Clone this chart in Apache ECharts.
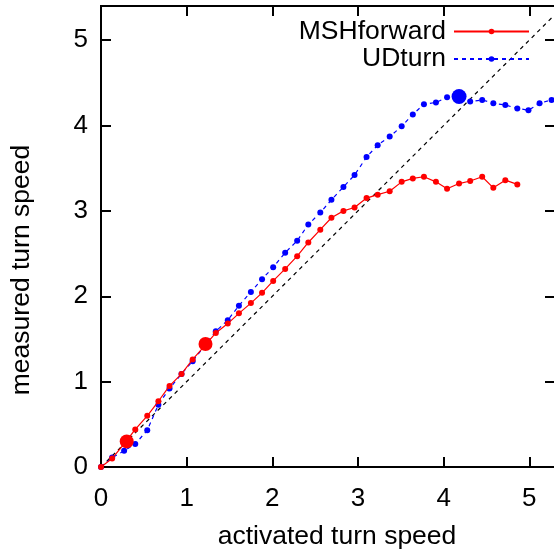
<!DOCTYPE html>
<html><head><meta charset="utf-8">
<script src="https://cdn.jsdelivr.net/npm/echarts@6/dist/echarts.min.js"></script>
<style>html,body{margin:0;padding:0;background:#fff}#c{width:554px;height:549px}</style>
</head><body><div id="c"></div>
<script>
// ---- data ----
const mshX = [0,0.13,0.27,0.40,0.54,0.67,0.80,0.94,1.07,1.21,1.34,1.48,1.61,1.75,1.88,2.01,2.15,2.29,2.42,2.56,2.69,2.83,2.96,3.10,3.23,3.37,3.51,3.64,3.77,3.91,4.04,4.18,4.31,4.45,4.58,4.72,4.86];
const mshY = [0,0.10,0.27,0.44,0.60,0.77,0.95,1.09,1.26,1.42,1.57,1.68,1.80,1.92,2.04,2.18,2.32,2.47,2.63,2.78,2.92,3.00,3.04,3.15,3.19,3.23,3.34,3.38,3.40,3.34,3.26,3.32,3.35,3.40,3.27,3.36,3.31];
const udX = [0,0.13,0.27,0.40,0.54,0.67,0.80,0.94,1.07,1.21,1.34,1.48,1.61,1.75,1.88,2.01,2.15,2.29,2.42,2.56,2.69,2.83,2.96,3.10,3.23,3.37,3.51,3.64,3.77,3.91,4.04,4.18,4.31,4.45,4.58,4.72,4.86,4.99,5.12,5.26,5.39];
const udY = [0,0.11,0.19,0.27,0.43,0.73,0.92,1.09,1.24,1.42,1.59,1.72,1.89,2.05,2.20,2.34,2.51,2.65,2.84,2.98,3.13,3.28,3.42,3.63,3.77,3.87,3.99,4.13,4.25,4.27,4.33,4.34,4.28,4.30,4.26,4.24,4.20,4.18,4.26,4.30,4.31];
const mshMarkX = [0.30, 1.22];
const mshMarkY = [0.30, 1.44];
const udMarkX = [4.18];
const udMarkY = [4.34];
const diagX = [0, 5.6];
const diagY = [0, 5.6];
const seriesNames = ['MSHforward', 'UDturn'];
const xLabel = 'activated turn speed';
const yLabel = 'measured turn speed';

const zip = (a, b) => a.map((v, i) => [v, b[i]]);
const FONT = 'Liberation Sans, Arial, sans-serif';

const GRID = { left: 101, top: 6, right: -1, bottom: 82 };
const W = 554, H = 549;
const gridW = W - GRID.left - GRID.right;
const gridH = H - GRID.top - GRID.bottom;
const TICK = 10;
const xMax = 5.3, yMax = 5.4;

const chart = echarts.init(document.getElementById('c'), null, { renderer: 'canvas' });
chart.setOption({
  animation: false,
  backgroundColor: '#fff',
  grid: Object.assign({ containLabel: false, outerBoundsMode: 'none', show: true,
    borderColor: '#000', borderWidth: 2, backgroundColor: 'transparent' }, GRID),
  legend: {
    data: seriesNames,
    orient: 'vertical', align: 'right',
    right: 19, top: 13,
    itemWidth: 75, itemHeight: 7, itemGap: 0.5,
    textStyle: { color: '#000', fontSize: 26.5, fontFamily: FONT, lineHeight: 26, padding: [0, 3, 0, 0] }
  },
  xAxis: {
    type: 'value', min: 0, max: xMax, interval: 1, position: 'bottom',
    axisLine: { show: true, onZero: false, lineStyle: { color: '#000', width: 2 } },
    axisTick: { show: false },
    // inward ticks on bottom and top edges, drawn as the two ends of a dashed split line
    splitLine: { show: true, lineStyle: { color: '#000', width: 2, type: [TICK, gridH - 2 * TICK] } },
    name: xLabel, nameLocation: 'middle', nameGap: 56,
    nameTextStyle: { color: '#000', fontSize: 26.5, fontFamily: FONT, padding: [0, 0, 0, 18] },
    axisLabel: { color: '#000', fontSize: 26, fontFamily: FONT, showMaxLabel: false, margin: 19 }
  },
  yAxis: {
    type: 'value', min: 0, max: yMax, interval: 1, position: 'left',
    axisLine: { show: true, onZero: false, lineStyle: { color: '#000', width: 2 } },
    axisTick: { show: false },
    splitLine: { show: true, lineStyle: { color: '#000', width: 2, type: [TICK, gridW - 2 * TICK] } },
    name: yLabel, nameLocation: 'middle', nameGap: 66, nameRotate: 90,
    nameTextStyle: { color: '#000', fontSize: 26.5, fontFamily: FONT, padding: [0, 67, 0, 0] },
    axisLabel: { color: '#000', fontSize: 26, fontFamily: FONT, showMaxLabel: false, margin: 13, padding: [5, 0, 0, 0] }
  },
  series: [
    { type: 'line', name: 'diag', data: zip(diagX, diagY), symbol: 'none', silent: true,
      lineStyle: { color: '#000', width: 1.2, type: [4, 4] }, z: 1 },
    { type: 'line', name: seriesNames[0], data: zip(mshX, mshY), symbol: 'circle', symbolSize: 6,
      itemStyle: { color: '#ff0000' }, lineStyle: { color: '#ff0000', width: 1.2, type: 'solid' }, z: 3 },
    { type: 'line', name: seriesNames[1], data: zip(udX, udY), symbol: 'circle', symbolSize: 6,
      itemStyle: { color: '#0000ff' }, lineStyle: { color: '#0000ff', width: 1.2, type: [4, 4] }, z: 2 },
    { type: 'scatter', name: 'mshMark', data: zip(mshMarkX, mshMarkY), symbolSize: 14,
      itemStyle: { color: '#ff0000', opacity: 1 }, z: 4 },
    { type: 'scatter', name: 'udMark', data: zip(udMarkX, udMarkY), symbolSize: 15,
      itemStyle: { color: '#0000ff', opacity: 1 }, z: 4 }
  ]
});
</script></body></html>
